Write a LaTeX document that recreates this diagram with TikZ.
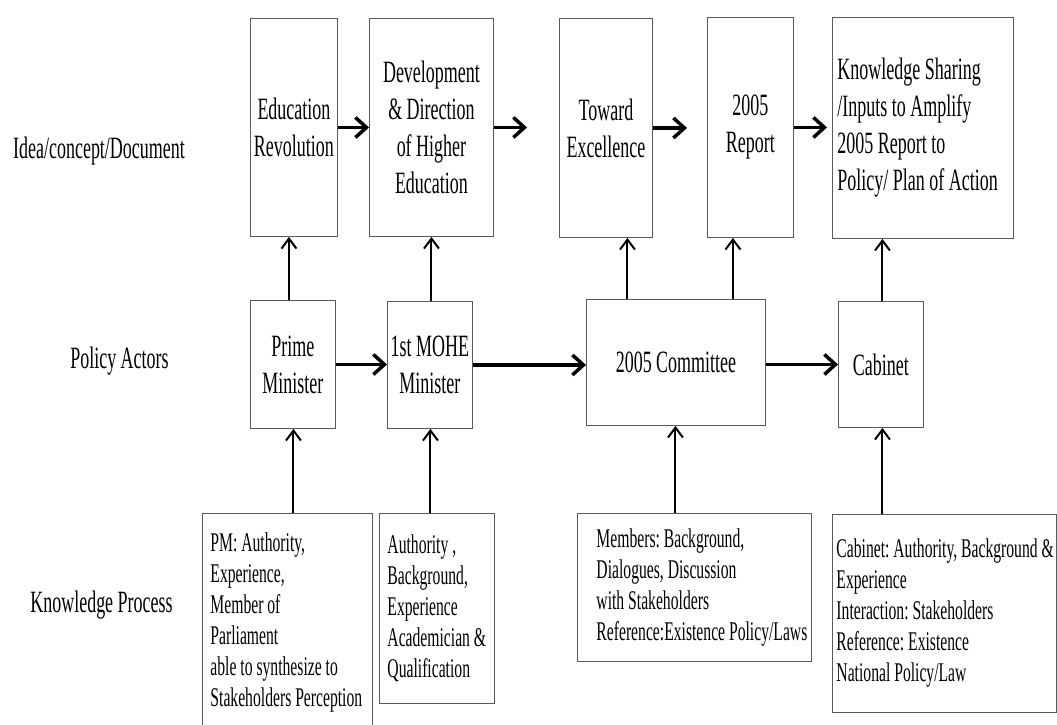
\documentclass[tikz,border=0pt]{standalone}
\usepackage{fontspec}
\setmainfont{Liberation Serif}[FakeStretch=0.58]
\usetikzlibrary{arrows.meta}
\newcommand\oneline[1]{\mbox{#1}}
% natural interword spaces inside ragged-right nodes
\newcommand\plainsp{\spaceskip=0pt\xspaceskip=0pt\frenchspacing}
\begin{document}
\begin{tikzpicture}[x=1pt,y=-1pt,
  every node/.style={inner sep=0pt},
  box/.style={draw=black!65, line width=0.9pt, anchor=north west, align=center,
    font=\fontsize{31}{37}\selectfont},
  kbox/.style={draw=black!65, line width=0.9pt, anchor=north west, align=left,
    font=\fontsize{27}{31}\selectfont},
  rowlabel/.style={anchor=base, font=\fontsize{31}{37}\selectfont},
  harrow/.style={line width=3.5pt, -{Straight Barb[length=11pt,width=20pt]}},
  varrow/.style={line width=2pt, -{Straight Barb[length=10pt,width=15pt]}},
]
\useasboundingbox (0,0) rectangle (1057,724);
\clip (0,0) rectangle (1057,724);
\fill[white] (0,0) rectangle (1057,724);

% row labels
\node[rowlabel] (lidea) at (99,158) {Idea/concept/Document};
\node[rowlabel] (lactors) at (119.5,368) {Policy Actors};
\node[rowlabel] (lknow) at (101.5,612) {Knowledge Process};

% ideas and documents
\node[box, minimum width=87pt, minimum height=218pt] (edu) at (250,18) {Education\\Revolution};
\node[box, minimum width=124pt, minimum height=218pt] (dev) at (369,18) {Development\\\& Direction\\of Higher\\Education};
\node[box, minimum width=93pt, minimum height=219pt] (tow) at (559,18) {Toward\\Excellence};
\node[box, minimum width=86pt, minimum height=220pt] (rep) at (707,17) {2005\\Report};
\node[box, align=left, text width=171pt, inner xsep=5pt, minimum height=221pt] (ks) at (832,17)
  {\plainsp Knowledge Sharing\\/Inputs to Amplify\\2005 Report to\\\oneline{Policy/ Plan of Action}};

% policy actors
\node[box, minimum width=85pt, minimum height=128pt] (pm) at (250,300) {Prime\\Minister};
\node[box, minimum width=85pt, minimum height=127pt] (mohe) at (387,301) {1st MOHE\\Minister};
\node[box, minimum width=179pt, minimum height=126pt] (com) at (586,299) {2005 Committee};
\node[box, minimum width=85pt, minimum height=126pt] (cab) at (838,301) {Cabinet};

% knowledge process
\node[kbox, text width=154pt, inner xsep=8pt, minimum height=218pt] (kpm) at (202,513)
  {\plainsp PM: Authority,\\Experience,\\Member of\\Parliament\\able to synthesize to\\\oneline{Stakeholders Perception}};
\node[kbox, text width=99pt, inner xsep=8pt, minimum height=190pt] (kmohe) at (379,513)
  {\plainsp Authority ,\\Background,\\Experience\\\oneline{Academician \&}\\Qualification};
\node[kbox, text width=196pt, inner xsep=19pt, minimum height=148pt] (kcom) at (577,513)
  {\plainsp Members: Background,\\Dialogues, Discussion\\with Stakeholders\\\oneline{Reference:Existence Policy/Laws}};
\node[kbox, text width=216pt, inner xsep=4pt, minimum height=198pt] (kcab) at (832,514)
  {\plainsp\oneline{Cabinet: Authority, Background \&}\\Experience\\Interaction: Stakeholders\\Reference: Existence\\National Policy/Law};

% flow of documents
\draw[harrow] (edu.east) -- (edu.east -| dev.west);
\draw[harrow, shorten >=32pt] (dev.east) -- (dev.east -| tow.west);
\draw[harrow, shorten >=20pt] (tow.east) -- (tow.east -| rep.west);
\draw[harrow, shorten >=5pt] (rep.east) -- (rep.east -| ks.west);

% flow between actors
\draw[harrow] (pm.east) -- (pm.east -| mohe.west);
\draw[harrow] (mohe.east) -- (mohe.east -| com.west);
\draw[harrow] (cab.west -| com.east) -- (cab.west);

% actors produce documents
\draw[varrow] ([xshift=-4pt]pm.north) -- ([xshift=-4pt]pm.north |- edu.south);
\draw[varrow] ([xshift=1.5pt]mohe.north) -- ([xshift=1.5pt]mohe.north |- dev.south);
\draw[varrow] ([xshift=-48.5pt]com.north) -- ([xshift=-48.5pt]com.north |- tow.south);
\draw[varrow] ([xshift=57pt]com.north) -- ([xshift=57pt]com.north |- rep.south);
\draw[varrow] ([xshift=1.5pt]cab.north) -- ([xshift=1.5pt]cab.north |- ks.south);

% knowledge feeds the actors
\draw[varrow] ([xshift=6pt]kpm.north) -- ([xshift=6pt]kpm.north |- pm.south);
\draw[varrow] ([xshift=-6.5pt]kmohe.north) -- ([xshift=-6.5pt]kmohe.north |- mohe.south);
\draw[varrow] ([xshift=-19pt]kcom.north) -- ([xshift=-19pt]kcom.north |- com.south);
\draw[varrow] ([xshift=-62pt]kcab.north) -- ([xshift=-62pt]kcab.north |- cab.south);
\end{tikzpicture}
\end{document}
